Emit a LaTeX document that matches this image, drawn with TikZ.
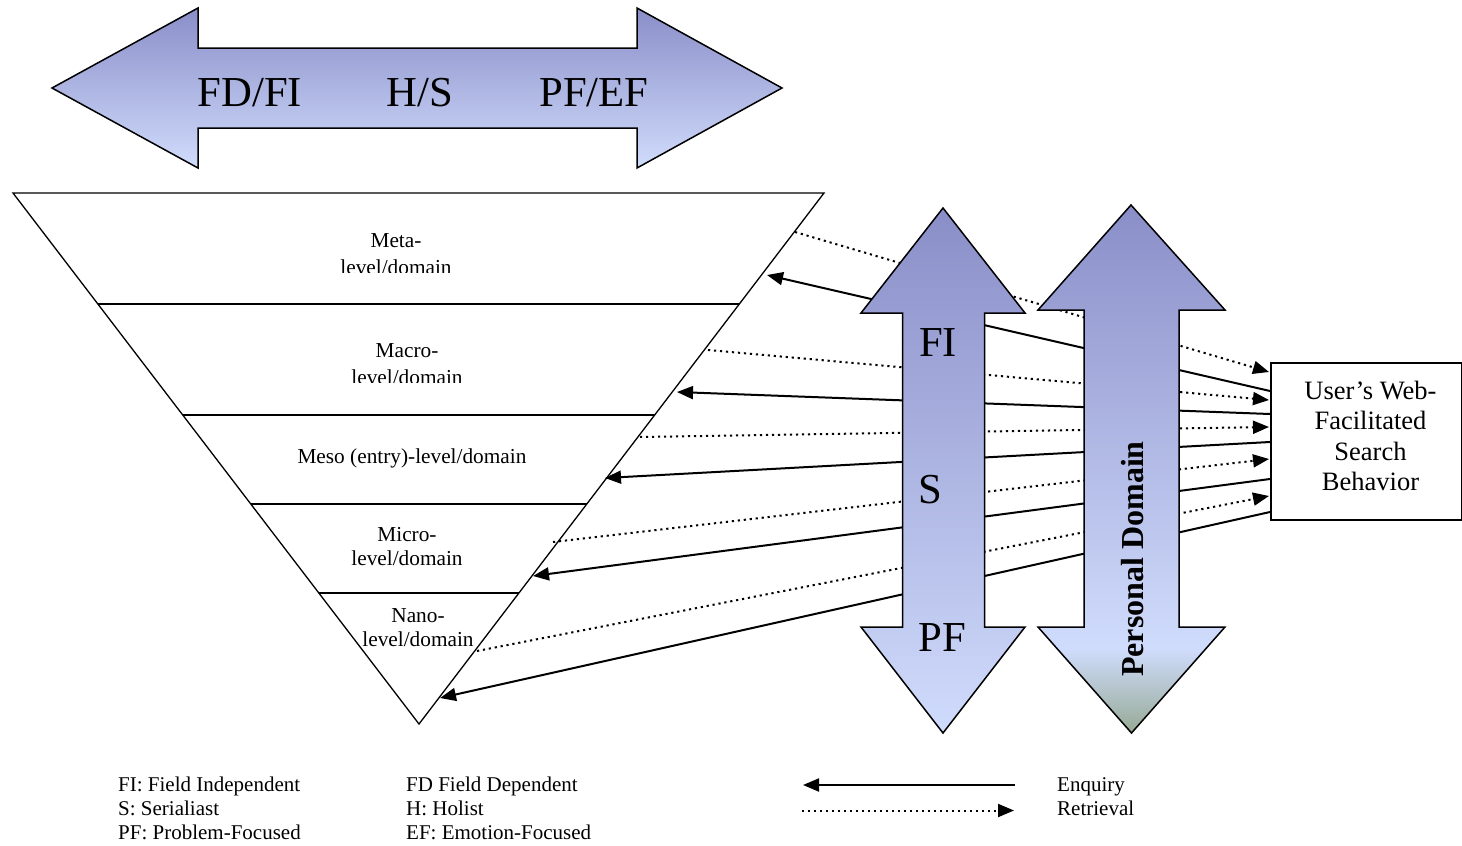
\documentclass[tikz,border=0pt]{standalone}
\usepackage{fontspec}
\setmainfont{Liberation Serif}
\usetikzlibrary{arrows.meta}
\definecolor{adark}{HTML}{8A8EC8}
\definecolor{alight}{HTML}{D0DCFC}
\definecolor{agreen}{HTML}{96AA96}
\pgfdeclareverticalshading{pdshade}{100bp}{color(0bp)=(agreen); color(25bp)=(agreen); color(33bp)=(alight); color(75bp)=(adark); color(100bp)=(adark)}
\begin{document}
\begin{tikzpicture}[x=1pt,y=-1pt,
  bigarrow/.style={draw=black, line width=1.5pt, top color=adark, bottom color=alight},
  tri/.style={draw=black, line width=1.3pt, line join=miter},
  levelline/.style={line width=2pt},
  enq/.style={line width=2pt, -{Triangle[length=16pt,width=13pt]}},
  ret/.style={line width=2pt, dash pattern=on 2.2pt off 3.8pt, -{Triangle[length=16pt,width=13pt]}},
  bigtxt/.style={font=\fontsize{42.7}{48}\selectfont, inner sep=0pt},
  lvtxt/.style={font=\fontsize{21.3}{26.5}\selectfont, align=center, inner sep=0pt},
  lvtxtb/.style={font=\fontsize{21.3}{24}\selectfont, align=center, inner sep=0pt},
  legtxt/.style={font=\fontsize{21}{24}\selectfont, align=left, inner sep=0pt, anchor=north west}
]
\useasboundingbox (0,0) rectangle (1462,846);

% top double arrow
\path[bigarrow] (52,88) -- (198,8) -- (198,48) -- (637,48) -- (637,8) -- (782,88)
  -- (637,168) -- (637,128) -- (198,128) -- (198,168) -- cycle;
\node[bigtxt] (fdfi) at (250,93) {FD/FI};
\node[bigtxt] (hs) at (420,93) {H/S};
\node[bigtxt] (pfef) at (594,93) {PF/EF};

% inverted triangle
\path[tri] (13,193) -- (824,193) -- (419,724) -- cycle;
\draw[levelline] (97.9,304) -- (739.3,304);
\draw[levelline] (182.7,415) -- (654.7,415);
\draw[levelline] (250.8,504) -- (586.8,504);
\draw[levelline] (318.8,593) -- (518.9,593);

\begin{scope}
  \clip (250,222) rectangle (550,272.5);
  \node[lvtxt] (meta) at (396,254) {Meta-\\level/domain};
\end{scope}
\begin{scope}
  \clip (250,332) rectangle (550,382.5);
  \node[lvtxt] (macro) at (407,364) {Macro-\\level/domain};
\end{scope}
\node[lvtxtb] (meso) at (412,458) {Meso (entry)-level/domain};
\node[lvtxtb] (micro) at (407,547) {Micro-\\level/domain};
\node[lvtxtb] (nano) at (418,628) {Nano-\\level/domain};

% connector end points
\coordinate (tr1) at (795,232);
\coordinate (tr2) at (708,350);
\coordinate (tr3) at (640,437);
\coordinate (tr4) at (553,542);
\coordinate (tr5) at (477,651);
\coordinate (te1) at (767,275);
\coordinate (te2) at (677,392);
\coordinate (te3) at (605,478);
\coordinate (te4) at (533,576);
\coordinate (te5) at (440,698);
\coordinate (br1) at (1269,372);
\coordinate (br2) at (1269,400);
\coordinate (br3) at (1269,427);
\coordinate (br4) at (1269,459);
\coordinate (br5) at (1269,496);
\coordinate (be1) at (1270,391);
\coordinate (be2) at (1270,414);
\coordinate (be3) at (1270,442);
\coordinate (be4) at (1270,479);
\coordinate (be5) at (1270,512);

\foreach \i in {1,...,5}{
  \draw[ret] (tr\i) -- (br\i);
  \draw[enq] (be\i) -- (te\i);
}

% FI / S / PF vertical double arrow
\path[bigarrow] (943,208) -- (1025,313) -- (984.5,313) -- (984.5,627) -- (1025,627) -- (943,733)
  -- (861,627) -- (902.5,627) -- (902.5,313) -- (861,313) -- cycle;
\node[bigtxt] (fi) at (938,343) {FI};
\node[bigtxt] (s) at (930,490) {S};
\node[bigtxt] (pf) at (942,638) {PF};

% Personal Domain vertical double arrow
\shadedraw[shading=pdshade, line width=1.5pt] (1131,205) -- (1225,310) -- (1179,310) -- (1179,627) -- (1225,627) -- (1131.5,733)
  -- (1038,627) -- (1084,627) -- (1084,310) -- (1038,310) -- cycle;
\node[rotate=90, font=\fontsize{32}{36}\selectfont\bfseries, inner sep=0pt] (pd) at (1133,559) {Personal Domain};

% user box
\node[draw, line width=1.5pt, anchor=north west, minimum width=191pt, minimum height=157pt, inner sep=0pt] (box) at (1270,362) {};
\node[font=\fontsize{26.5}{30.5}\selectfont, align=center, inner sep=0pt] (boxtxt) at (1370.5,436) {User’s Web-\\Facilitated\\Search\\Behavior};

% legend
\node[legtxt] (leg1) at (118,777) {FI: Field Independent\\S: Serialiast\\PF: Problem-Focused};
\node[legtxt] (leg2) at (406,777) {FD Field Dependent\\H: Holist\\EF: Emotion-Focused};
\coordinate (le1) at (1015,785);
\coordinate (le2) at (803,785);
\coordinate (lr1) at (802,810.5);
\coordinate (lr2) at (1014,810.5);
\draw[enq] (le1) -- (le2);
\draw[ret] (lr1) -- (lr2);
\node[legtxt] (leg3) at (1057,777) {Enquiry\\Retrieval};
\end{tikzpicture}
\end{document}
